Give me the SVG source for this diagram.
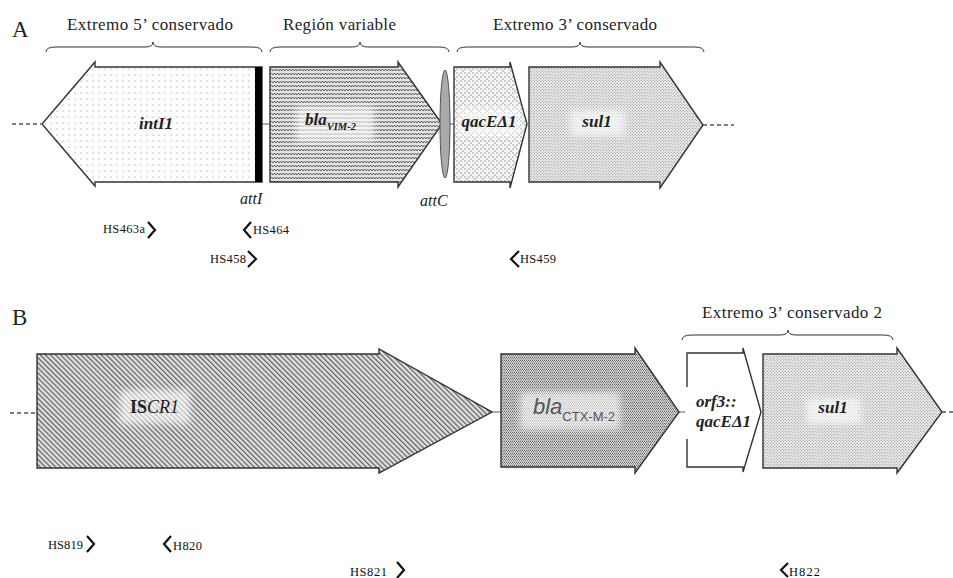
<svg xmlns="http://www.w3.org/2000/svg" width="953" height="578" viewBox="0 0 953 578">
<style>
.serif{font-family:"Liberation Serif","Times New Roman",serif;fill:#222}
.head{font-size:17px}
.panel{font-size:23px}
.gene{font-size:17px;font-weight:bold;font-style:italic}
.site{font-size:16px;font-style:italic}
.primer{font-size:12.5px;fill:#111}
.box{stroke:#333;stroke-width:1.4;stroke-linejoin:miter}
.brace{fill:none;stroke:#333;stroke-width:1}
.chev{fill:none;stroke:#111;stroke-width:2.2;stroke-linejoin:miter}
.link{stroke:#777;stroke-width:1.2;fill:none}
.dash{stroke:#555;stroke-width:1.3;stroke-dasharray:4 3;fill:none}
.glow{fill:#fff;opacity:0.6;filter:url(#blur)}
</style>
<defs>
<filter id="blur" x="-20%" y="-40%" width="140%" height="180%"><feGaussianBlur stdDeviation="3"/></filter>
<pattern id="pDots" width="6" height="6" patternUnits="userSpaceOnUse"><rect width="6" height="6" fill="#fdfdfd"/><circle cx="3" cy="3" r="0.6" fill="#888"/></pattern>
<pattern id="pWave" width="6" height="4" patternUnits="userSpaceOnUse"><rect width="6" height="4" fill="#e4e4e4"/><path d="M0,3 L1.5,1 L3,3 L4.5,1 L6,3" fill="none" stroke="#555" stroke-width="0.9"/></pattern>
<pattern id="pV" width="8" height="8" patternUnits="userSpaceOnUse"><rect width="8" height="8" fill="#f7f7f7"/><circle cx="1" cy="1" r="0.7" fill="#777"/><circle cx="3" cy="3" r="0.7" fill="#777"/><circle cx="5" cy="1" r="0.7" fill="#777"/><circle cx="5" cy="5" r="0.7" fill="#777"/><circle cx="7" cy="7" r="0.7" fill="#777"/><circle cx="1" cy="5" r="0.7" fill="#777"/></pattern>
<pattern id="pDense" width="3" height="3" patternUnits="userSpaceOnUse"><rect width="3" height="3" fill="#efefef"/><circle cx="0.75" cy="0.75" r="0.55" fill="#777"/><circle cx="2.25" cy="2.25" r="0.55" fill="#777"/></pattern>
<pattern id="pDiag" width="3.6" height="3.6" patternUnits="userSpaceOnUse" patternTransform="rotate(-45)"><rect width="3.6" height="3.6" fill="#e2e2e2"/><rect width="1.3" height="3.6" fill="#666"/></pattern>
<pattern id="pHoriz" width="2" height="3" patternUnits="userSpaceOnUse"><rect width="2" height="3" fill="#d6d6d6"/><rect y="0" width="1" height="1" fill="#666"/><rect x="1" y="1" width="1" height="1" fill="#888"/><rect y="2" width="2" height="0.6" fill="#aaa"/></pattern>
</defs>
<rect width="953" height="578" fill="#fff"/>

<!-- Panel labels and headings -->
<text class="serif panel" x="12" y="37">A</text>
<text class="serif panel" x="12" y="325">B</text>
<g id="brace-5cs">
<path class="brace" d="M46,52 Q46,47 56,47 L145,47 Q153,47 153,42 Q153,47 161,47 L252,47 Q262,47 262,52"/>
<text class="serif head" x="67" y="30" textLength="166">Extremo 5’ conservado</text>
</g>
<g id="brace-var">
<path class="brace" d="M270,52 Q270,47 280,47 L352,47 Q360,47 360,42 Q360,47 368,47 L439,47 Q449,47 449,52"/>
<text class="serif head" x="283" y="30" textLength="113">Región variable</text>
</g>
<g id="brace-3cs">
<path class="brace" d="M457,52 Q457,47 467,47 L572,47 Q580,47 580,42 Q580,47 588,47 L694,47 Q704,47 704,52"/>
<text class="serif head" x="493" y="30" textLength="164">Extremo 3’ conservado</text>
</g>
<g id="brace-3cs2">
<path class="brace" d="M682,340 Q682,335 692,335 L780,335 Q788,335 788,330 Q788,335 796,335 L883,335 Q893,335 893,340"/>
<text class="serif head" x="702" y="318" textLength="180">Extremo 3’ conservado 2</text>
</g>

<!-- connectors -->
<g id="connectors">
<line class="dash" x1="12" y1="124" x2="41" y2="124"/>
<line class="link" x1="262" y1="124" x2="270" y2="124"/>
<line class="link" x1="442" y1="124" x2="454" y2="124"/>
<line class="dash" x1="703" y1="125" x2="734" y2="125"/>
<line class="dash" x1="10" y1="413" x2="37" y2="413"/>
<line class="link" x1="492" y1="412" x2="501" y2="412"/>
<line class="link" x1="679" y1="412" x2="687" y2="412"/>
<line class="dash" x1="942" y1="412" x2="953" y2="412"/>
</g>

<!-- Panel A nodes -->
<g id="intI1">
<path class="box" fill="url(#pDots)" d="M262,67 L95,67 L95,62 L42,124 L95,186 L95,182 L262,182 Z"/>
<rect x="255" y="67" width="7" height="115" fill="#000"/>
<text class="serif gene" x="156" y="129" text-anchor="middle" font-size="18">intI1</text>
</g>
<g id="attI">
<text class="serif site" x="240" y="204">attI</text>
</g>
<g id="blaVIM2">
<path class="box" fill="url(#pWave)" d="M270,67 L398,67 L398,62 L442,124 L398,187 L398,182 L270,182 Z"/>
<rect class="glow" x="296" y="106" width="78" height="36"/>
<text class="serif gene" x="305" y="125" font-size="18">bla<tspan font-size="10.5" dy="5">VIM-2</tspan></text>
</g>
<g id="attC">
<ellipse cx="445" cy="124" rx="5" ry="54" fill="#aaa" stroke="#555" stroke-width="1"/>
<text class="serif site" x="420" y="206">attC</text>
</g>
<g id="qacEd1">
<path class="box" fill="url(#pV)" d="M454,67 L510,67 L510,62 L527,124 L510,188 L510,182 L454,182 Z"/>
<rect class="glow" x="458" y="108" width="62" height="28"/>
<text class="serif gene" x="489" y="127" text-anchor="middle" font-size="16">qacEΔ1</text>
</g>
<g id="sul1-A">
<path class="box" fill="url(#pDense)" d="M529,67 L660,67 L660,62 L703,125 L660,188 L660,182 L529,182 Z"/>
<rect class="glow" x="570" y="110" width="55" height="26"/>
<text class="serif gene" x="597" y="127" text-anchor="middle" font-size="16">sul1</text>
</g>

<!-- Panel A primers -->
<g id="HS463a"><text class="serif primer" x="103" y="233" textLength="42">HS463a</text><path class="chev" d="M148,222 L155,230 L148,238"/></g>
<g id="HS464"><path class="chev" d="M251,222 L244,230 L251,238"/><text class="serif primer" x="253" y="234" textLength="36">HS464</text></g>
<g id="HS458"><text class="serif primer" x="210" y="263" textLength="36">HS458</text><path class="chev" d="M248,251 L256,259 L248,267"/></g>
<g id="HS459"><path class="chev" d="M519,251 L511,259 L519,267"/><text class="serif primer" x="520" y="263" textLength="36">HS459</text></g>

<!-- Panel B nodes -->
<g id="ISCR1">
<path class="box" fill="url(#pDiag)" d="M37,354 L379,354 L379,349 L492,412 L379,473 L379,468 L37,468 Z"/>
<rect class="glow" x="120" y="390" width="70" height="34"/>
<text class="serif" x="130" y="413" font-size="18"><tspan font-weight="bold">IS</tspan><tspan font-style="italic">CR1</tspan></text>
</g>
<g id="blaCTXM2">
<path class="box" fill="url(#pHoriz)" d="M501,354 L635,354 L635,348 L679,412 L635,473 L635,467 L501,467 Z"/>
<rect class="glow" x="520" y="392" width="100" height="38"/>
<text x="533" y="414" font-family="Liberation Sans, Arial, sans-serif" font-size="22" font-style="italic" fill="#555">bla<tspan font-style="normal" font-size="13" dy="7">CTX-M-2</tspan></text>
</g>
<g id="orf3-qacEd1">
<path class="box" fill="#fff" d="M687,353 L743,353 L743,348 L761,412 L743,472 L743,467 L687,467 Z"/>
<rect x="685" y="387" width="56" height="52" fill="#fff"/>
<text class="serif gene" x="696" y="407" font-size="16">orf3::</text>
<text class="serif gene" x="696" y="427" font-size="16">qacEΔ1</text>
</g>
<g id="sul1-B">
<path class="box" fill="url(#pDense)" d="M763,354 L897,354 L897,348 L942,412 L897,473 L897,468 L763,468 Z"/>
<rect class="glow" x="806" y="398" width="55" height="26"/>
<text class="serif gene" x="833" y="413" text-anchor="middle" font-size="16">sul1</text>
</g>

<!-- Panel B primers -->
<g id="HS819"><text class="serif primer" x="48" y="549" textLength="35">HS819</text><path class="chev" d="M87,536 L94,544 L87,552"/></g>
<g id="H820"><path class="chev" d="M171,536 L164,544 L171,552"/><text class="serif primer" x="173" y="550" textLength="29">H820</text></g>
<g id="HS821"><text class="serif primer" x="350" y="576" textLength="37">HS821</text><path class="chev" d="M397,562 L404,570 L397,578"/></g>
<g id="H822"><path class="chev" d="M788,563 L781,570 L788,577"/><text class="serif primer" x="789" y="576" textLength="31">H822</text></g>
</svg>
